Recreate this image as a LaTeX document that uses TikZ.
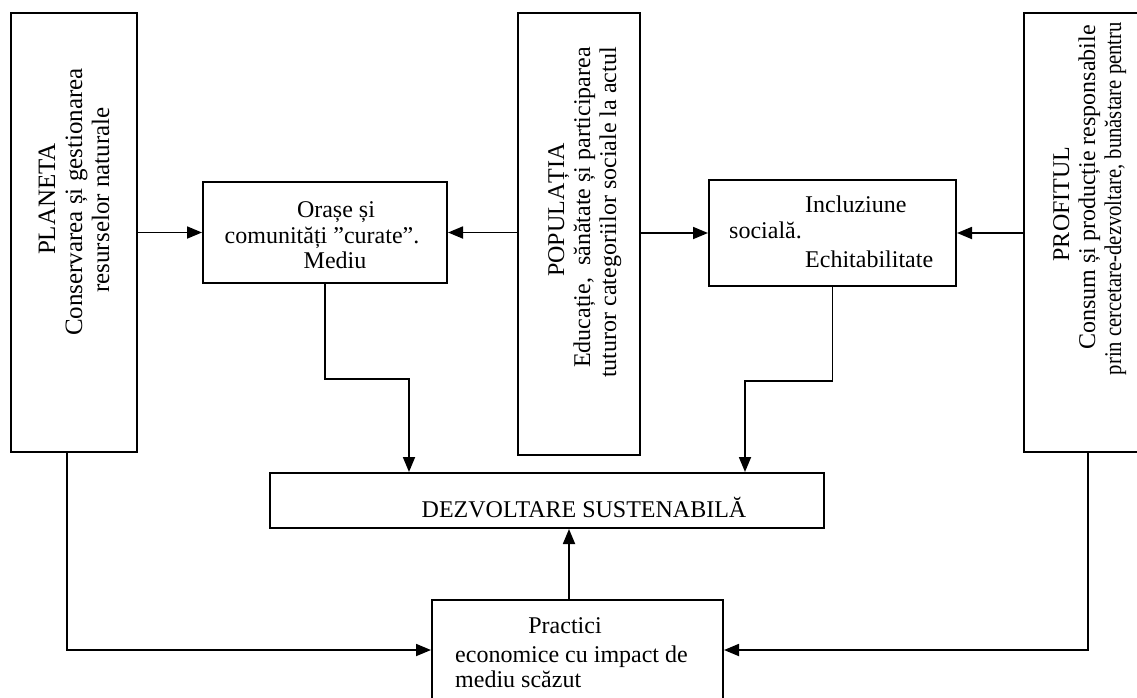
\documentclass[tikz,border=0pt]{standalone}
\usepackage{fontspec}
\setmainfont{Liberation Serif}
\usetikzlibrary{arrows.meta}
\begin{document}
\begin{tikzpicture}[x=1pt,y=-1pt,
  box/.style={draw, line width=2pt, inner sep=0pt},
  conn/.style={line width=1.8pt},
  arr/.style={conn, -{Triangle[length=15pt,width=12pt]}},
  txt/.style={inner sep=0pt, font=\fontsize{24}{27}\selectfont},
  vtxt/.style={inner sep=0pt, rotate=90, font=\fontsize{24}{27}\selectfont},
  vtxtb/.style={inner sep=0pt, rotate=90, font=\fontsize{25}{28}\selectfont}]
\useasboundingbox (0,0) rectangle (1137,697);
\clip (0,0) rectangle (1137,697);
% boxes
\node[box, minimum width=126pt, minimum height=439pt] (planeta) at (74,232.5) {};
\node[box, minimum width=122pt, minimum height=442pt] (populatia) at (579,234) {};
\node[box, minimum width=130pt, minimum height=439pt] (profitul) at (1089,232.5) {};
\node[box, minimum width=244pt, minimum height=101pt] (orase) at (325,232.5) {};
\node[box, minimum width=247pt, minimum height=106pt] (incl) at (832.5,233) {};
\node[box, minimum width=554pt, minimum height=55pt] (dezv) at (547,500.5) {};
\node[box, minimum width=291pt, minimum height=120pt] (practici) at (577.5,660) {};
% vertical texts: PLANETA
\node[vtxtb, anchor=base] (pl1) at (55,199) {PLANETA};
\node[vtxtb, anchor=base] (pl2) at (82,202) {Conservarea și gestionarea};
\node[vtxtb, anchor=base] (pl3) at (109,200) {resurselor naturale};
% POPULATIA
\node[vtxt, anchor=base] (po1) at (564,210) {POPULAȚIA};
\node[vtxt, anchor=base east] (po2) at (590,47) {Educație,\ \ sănătate și participarea};
\node[vtxt, anchor=base east] (po3) at (616,47) {tuturor categoriilor sociale la actul};
% PROFITUL
\node[vtxt, anchor=base] (pr1) at (1069,204) {PROFITUL};
\node[vtxt, anchor=base east] (pr2) at (1095,25) {Consum și producție responsabile};
\node[vtxt, anchor=base east] (pr3) at (1121,22) {\scalebox{0.86}[1]{prin cercetare-dezvoltare, bunăstare pentru}};
% horizontal texts
\node[txt, anchor=base] (o1) at (336,217) {Orașe și};
\node[txt, anchor=base] (o2) at (322,243) {comunități ”curate”.};
\node[txt, anchor=base] (o3) at (335,268) {Mediu};
\node[txt, anchor=base west] (i1) at (805,212) {Incluziune};
\node[txt, anchor=base west] (i2) at (729,238) {socială.};
\node[txt, anchor=base west] (i3) at (805,267) {Echitabilitate};
\node[txt, anchor=base] (d1) at (584,517) {DEZVOLTARE SUSTENABILĂ};
\node[txt, anchor=base] (p1) at (565,633) {Practici};
\node[txt, anchor=base west] (p2) at (455,662) {economice cu impact de};
\node[txt, anchor=base west] (p3) at (455,687) {mediu scăzut};
% junctions
\coordinate (j1) at (409,379);
\coordinate (j2) at (745,381);
\coordinate (j3) at (569,600);
\coordinate (j4) at (67,650);
\coordinate (j5) at (1088,650);
% connectors
\draw[arr] (planeta.east) -- (orase.west);
\draw[arr] (orase.east -| populatia.west) -- (orase.east);
\draw[arr] (incl.west -| populatia.east) -- (incl.west);
\draw[arr] (incl.east -| profitul.west) -- (incl.east);
\draw[arr] (orase.south) |- (j1) -- (j1 |- dezv.north);
\draw[arr] (incl.south) |- (j2) -- (j2 |- dezv.north);
\draw[arr] (j3 |- practici.north) -- (j3 |- dezv.south);
\draw[arr] (j4 |- planeta.south) -- (j4) -- (j4 -| practici.west);
\draw[arr] (j5 |- profitul.south) -- (j5) -- (j5 -| practici.east);
\end{tikzpicture}
\end{document}
